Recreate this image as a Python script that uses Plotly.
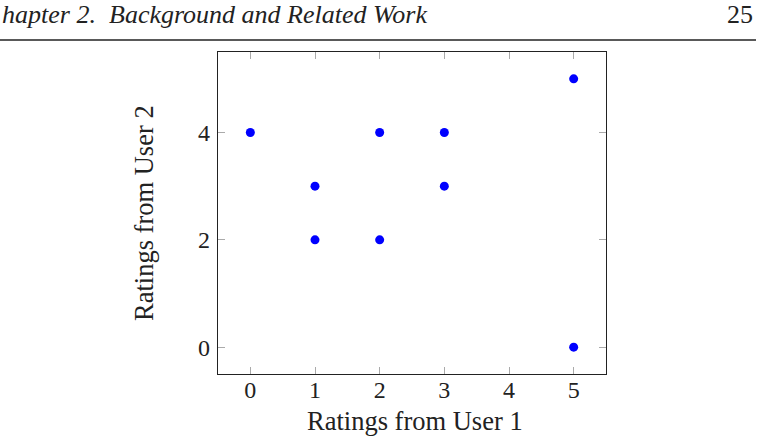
import plotly.graph_objects as go

# Data
user1 = [0, 1, 1, 2, 2, 3, 3, 5, 5]
user2 = [4, 3, 2, 4, 2, 4, 3, 5, 0]
x_ticks = [0, 1, 2, 3, 4, 5]
y_ticks = [0, 2, 4]
x_title = "Ratings from User 1"
y_title = "Ratings from User 2"
header_chapter = "hapter 2."
header_title = "Background and Related Work"
page_number = "25"

W, H = 763, 444
L, R, T, B = 218, 157, 52, 70
pw, ph = W - L - R, H - T - B

def px(x):
    return (x - L) / pw

def py(y):
    return (H - B - y) / ph

FONT = "Liberation Serif"
INK = "#222222"

fig = go.Figure(go.Scatter(
    x=user1, y=user2, mode="markers",
    marker=dict(color="#0000ff", size=9, line=dict(width=0)),
    showlegend=False,
))

axis_common = dict(
    showgrid=False, zeroline=False, showline=True, mirror="ticks",
    linecolor=INK, linewidth=1.2, automargin=False,
    ticks="inside", ticklen=7, tickwidth=1, tickcolor="#aaaaaa",
    tickfont=dict(family=FONT, size=24, color=INK),
)

fig.update_layout(
    width=W, height=H,
    margin=dict(l=L, r=R, t=T, b=B),
    paper_bgcolor="white", plot_bgcolor="white",
    xaxis=dict(range=[-0.5, 5.5], tickvals=x_ticks, ticklabelstandoff=-6, **axis_common),
    yaxis=dict(range=[-0.5, 5.5], tickvals=y_ticks, ticklabelstandoff=2, **axis_common),
)

fig.add_annotation(text=x_title, xref="paper", yref="paper", x=px(415), y=py(421),
                   xanchor="center", yanchor="middle", showarrow=False,
                   font=dict(family=FONT, size=26.5, color=INK))
fig.add_annotation(text=y_title, xref="paper", yref="paper", x=px(144), y=py(213),
                   xanchor="center", yanchor="middle", showarrow=False, textangle=-90,
                   font=dict(family=FONT, size=26.5, color=INK))

fig.add_annotation(text="<i>" + header_chapter + "</i>", xref="paper", yref="paper", x=px(0), y=py(14),
                   xanchor="left", yanchor="middle", showarrow=False,
                   font=dict(family=FONT, size=26, color=INK))
fig.add_annotation(text="<i>" + header_title + "</i>", xref="paper", yref="paper", x=px(107), y=py(14),
                   xanchor="left", yanchor="middle", showarrow=False,
                   font=dict(family=FONT, size=26, color=INK))
fig.add_annotation(text=page_number, xref="paper", yref="paper", x=px(755), y=py(14),
                   xanchor="right", yanchor="middle", showarrow=False,
                   font=dict(family=FONT, size=26, color=INK))
fig.add_shape(type="line", xref="paper", yref="paper", x0=px(0), x1=px(756), y0=py(40), y1=py(40),
              line=dict(color=INK, width=1.5))

fig.write_html("out.html")
